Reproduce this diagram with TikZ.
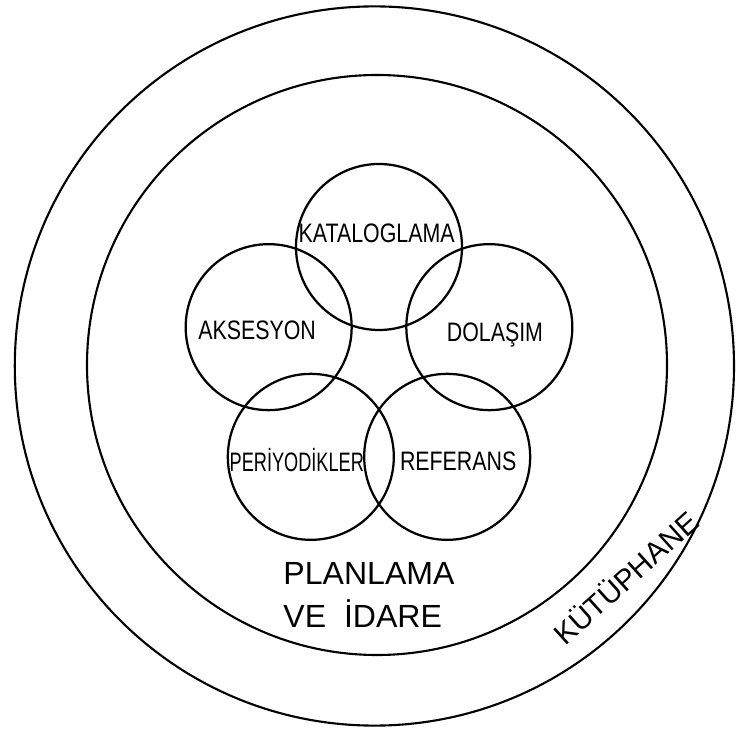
\documentclass[tikz,border=0pt]{standalone}
\usepackage{fontspec}
\setmainfont{Liberation Sans}
\newfontfamily\lblfont[FakeStretch=0.8]{Liberation Sans}
\newfontfamily\tightfont[FakeStretch=0.68]{Liberation Sans}
\usetikzlibrary{positioning, calc}

\tikzset{
  ring/.style={line width=1.5pt},
  unit/.style={circle, draw, line width=1.6pt, minimum size=4.15cm, inner sep=0pt},
  lbl/.style={font=\lblfont\fontsize{19}{19}\selectfont, inner sep=0pt},
}

\begin{document}
\begin{tikzpicture}
\useasboundingbox (-9.4,-9.1) rectangle (9.0,9.125);

% library and planning rings
\draw[ring] (-0.04,-0.025) circle (8.99);
\draw[ring] (0.025,0) circle (7.25);

% five units on a pentagon
\coordinate (mid) at (0.075,0.05);
\foreach \name/\ang in {kat/90, aks/162, per/234, ref/306, dol/18}
  \node[unit] (\name) at ($(mid)+(\ang:2.9)$) {};

% unit labels
\node[lbl] (katlbl) at ($(kat.center)+(-0.06,0.34)$) {KATALOGLAMA};
\node[lbl] (akslbl) at ($(aks.center)+(-0.29,-0.075)$) {AKSESYON};
\node[lbl] (dollbl) at ($(dol.center)+(0.14,-0.2)$) {DOLAŞIM};
\node[lbl, font=\tightfont\fontsize{19}{19}\selectfont] (perlbl) at ($(per.center)+(-0.35,-0.075)$) {PERİYODİKLER};
\node[lbl] (reflbl) at ($(ref.center)+(0.275,-0.1)$) {REFERANS};

% ring labels
\node[font=\fontsize{22.8}{30.6}\selectfont, align=left] (plan) at (-0.175,-5.74) {PLANLAMA\\VE~~İDARE};
\node[font=\fontsize{21}{21}\selectfont, rotate=42] (lib) at (6.225,-5.3) {KÜTÜPHANE};
\end{tikzpicture}
\end{document}
